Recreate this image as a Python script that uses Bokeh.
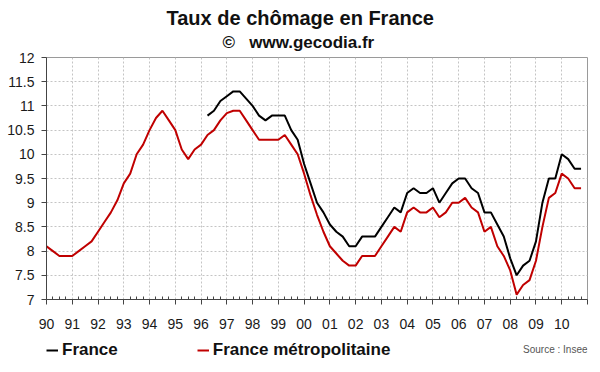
from bokeh.plotting import figure
from bokeh.models import FixedTicker, Range1d, Legend, LegendItem, Title, Label
from bokeh.layouts import column
from bokeh.embed import file_html
from bokeh.resources import INLINE

# Quarterly unemployment rate (%), France métropolitaine, 1990 Q1 .. 2010 Q4
metro = [
    8.1, 8.0, 7.9, 7.9,      # 1990
    7.9, 8.0, 8.1, 8.2,      # 1991
    8.4, 8.6, 8.8, 9.05,     # 1992
    9.4, 9.6, 10.0, 10.2,    # 1993
    10.5, 10.75, 10.9, 10.7, # 1994
    10.5, 10.1, 9.9, 10.1,   # 1995
    10.2, 10.4, 10.5, 10.7,  # 1996
    10.85, 10.9, 10.9, 10.7, # 1997
    10.5, 10.3, 10.3, 10.3,  # 1998
    10.3, 10.4, 10.2, 10.0,  # 1999
    9.6, 9.15, 8.75, 8.4,    # 2000
    8.1, 7.95, 7.8, 7.7,     # 2001
    7.7, 7.9, 7.9, 7.9,      # 2002
    8.1, 8.3, 8.5, 8.4,      # 2003
    8.8, 8.9, 8.8, 8.8,      # 2004
    8.9, 8.7, 8.8, 9.0,      # 2005
    9.0, 9.1, 8.9, 8.8,      # 2006
    8.4, 8.5, 8.1, 7.9,      # 2007
    7.6, 7.1, 7.3, 7.4,      # 2008
    7.8, 8.5, 9.1, 9.2,      # 2009
    9.6, 9.5, 9.3, 9.3,      # 2010
]
metro_start_year = 1990.0

# Quarterly unemployment rate (%), France (incl. DOM), 1996 Q2 .. 2010 Q4
france = [
    10.8, 10.9, 11.1,        # 1996 Q2-Q4
    11.2, 11.3, 11.3, 11.15, # 1997
    11.0, 10.8, 10.7, 10.8,  # 1998
    10.8, 10.8, 10.5, 10.3,  # 1999
    9.8, 9.4, 9.0, 8.8,      # 2000
    8.55, 8.4, 8.3, 8.1,     # 2001
    8.1, 8.3, 8.3, 8.3,      # 2002
    8.5, 8.7, 8.9, 8.8,      # 2003
    9.2, 9.3, 9.2, 9.2,      # 2004
    9.3, 9.0, 9.2, 9.4,      # 2005
    9.5, 9.5, 9.3, 9.2,      # 2006
    8.8, 8.8, 8.55, 8.3,     # 2007
    7.85, 7.5, 7.7, 7.8,     # 2008
    8.2, 9.0, 9.5, 9.5,      # 2009
    10.0, 9.9, 9.7, 9.7,     # 2010
]
france_start_year = 1996.25

x_ticks = list(range(1990, 2012))
x_tick_labels = ["90", "91", "92", "93", "94", "95", "96", "97", "98", "99",
                 "00", "01", "02", "03", "04", "05", "06", "07", "08", "09", "10", ""]
y_ticks = [7, 7.5, 8, 8.5, 9, 9.5, 10, 10.5, 11, 11.5, 12]
y_tick_labels = ["7", "7.5", "8", "8.5", "9", "9.5", "10", "10.5", "11", "11.5", "12"]

title_text = "Taux de chômage en France"
subtitle_text = "©\u00a0\u00a0\u00a0www.gecodia.fr"
source_text = "Source : Insee"
series_names = ["France", "France métropolitaine"]
series_colors = ["#000000", "#c00000"]

FONT = "Liberation Sans"

metro_x = [metro_start_year + i / 4 for i in range(len(metro))]
france_x = [france_start_year + i / 4 for i in range(len(france))]

# ---------------- main chart ----------------
p = figure(width=600, height=340, output_backend="svg", toolbar_location=None,
           title=None, x_range=Range1d(1990, 2011), y_range=Range1d(7, 12),
           min_border_left=46, min_border_right=13, min_border_top=57,
           min_border_bottom=41, background_fill_color="white",
           border_fill_color="white")
p.outline_line_color = "#9a9a9a"

r_fr = p.line(france_x, france, line_color=series_colors[0], line_width=2)
r_me = p.line(metro_x, metro, line_color=series_colors[1], line_width=2)

xax = p.xaxis[0]
yax = p.yaxis[0]
minor = [t + q / 4 for t in x_ticks[:-1] for q in (1, 2, 3)]
xax.ticker = FixedTicker(ticks=x_ticks, minor_ticks=minor)
xax.major_label_overrides = {t: l for t, l in zip(x_ticks, x_tick_labels)}
yax.ticker = FixedTicker(ticks=y_ticks)
yax.major_label_overrides = {t: l for t, l in zip(y_ticks, y_tick_labels)}

for ax in (xax, yax):
    ax.axis_line_color = "#444444"
    ax.major_tick_line_color = "#444444"
    ax.minor_tick_line_color = "#444444"
    ax.major_label_text_font = FONT
    ax.major_label_text_font_size = "14px"
    ax.major_label_text_color = "#1a1a1a"

xax.major_tick_in = 0
xax.major_tick_out = 5
xax.minor_tick_in = 3
xax.minor_tick_out = 0
xax.major_label_standoff = 14
yax.major_tick_in = 0
yax.major_tick_out = 5
yax.minor_tick_line_color = None
yax.major_label_standoff = 7

for g in (p.xgrid[0], p.ygrid[0]):
    g.grid_line_color = "#c4c4c4"
    g.grid_line_dash = "2 2"
    g.grid_line_width = 1

# titles (stacked outward from the frame)
p.add_layout(Title(text=subtitle_text, align="left", offset=176, standoff=8,
                   vertical_align="top",
                   text_font=FONT, text_font_size="17px", text_font_style="bold",
                   text_color="#111111"), "above")
p.add_layout(Title(text=title_text, align="left", offset=120, standoff=0,
                   text_font=FONT, text_font_size="20px", text_font_style="bold",
                   text_color="#111111"), "above")

# ---------------- legend / source strip ----------------
# Same x range as the chart; the y range keeps the series out of view so the
# strip only shows the legend and the source note.
strip = figure(width=600, height=32, output_backend="svg", toolbar_location=None,
               title=None, x_range=p.x_range, y_range=Range1d(0, 1),
               x_axis_type=None, y_axis_type=None,
               min_border_left=46, min_border_right=13, min_border_top=0,
               min_border_bottom=0, background_fill_color="white",
               border_fill_color="white")
strip.outline_line_color = None
strip.xgrid.visible = False
strip.ygrid.visible = False

k_fr = strip.line(france_x, france, line_color=series_colors[0], line_width=2)
k_me = strip.line(metro_x, metro, line_color=series_colors[1], line_width=2)

legend = Legend(items=[LegendItem(label=series_names[0], renderers=[k_fr]),
                       LegendItem(label=series_names[1], renderers=[k_me])],
                orientation="horizontal", location=(0, 12),
                glyph_width=12, glyph_height=20, label_height=20,
                label_standoff=4, spacing=79, padding=0, margin=0,
                label_text_font=FONT, label_text_font_size="17px",
                label_text_font_style="bold", label_text_color="#111111",
                border_line_color=None, background_fill_alpha=0)
strip.add_layout(legend, "center")

strip.add_layout(Label(x=2011, y=0.72, text=source_text, text_font=FONT,
                       text_font_size="10px", text_align="right",
                       text_baseline="middle", text_color="#555555"))

layout = column(p, strip, spacing=0)

open("out.html", "w").write(file_html(layout, INLINE))
